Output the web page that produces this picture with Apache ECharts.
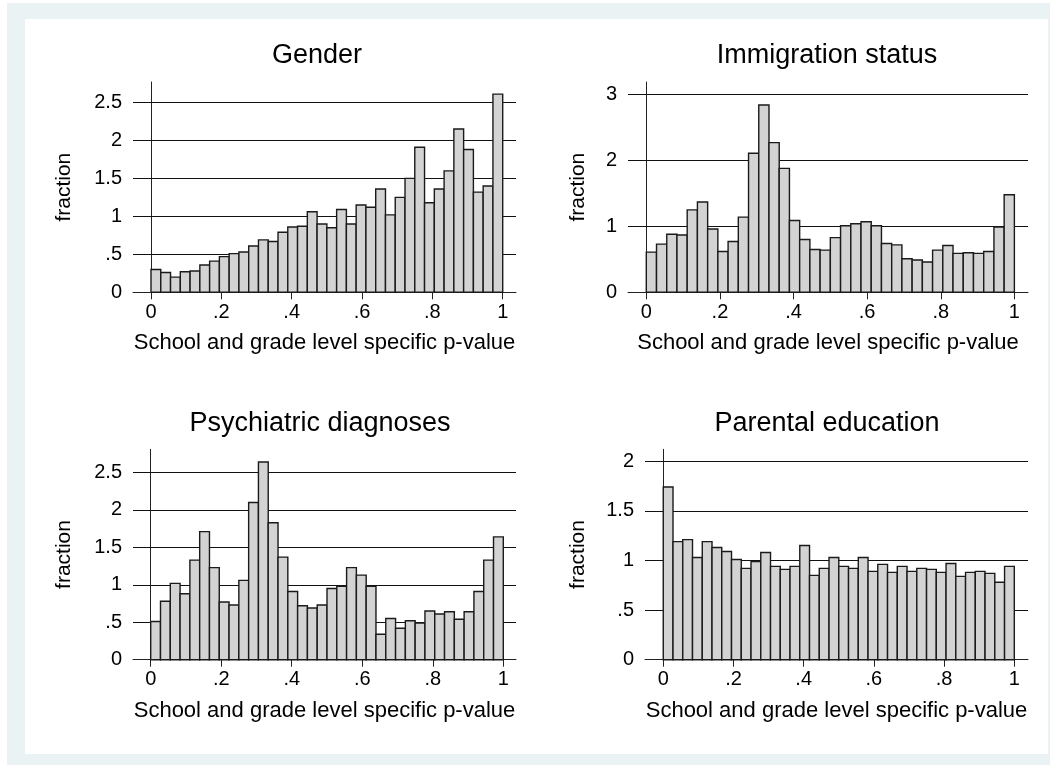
<!DOCTYPE html>
<html>
<head>
<meta charset="utf-8">
<script src="https://cdn.jsdelivr.net/npm/echarts@6/dist/echarts.min.js"></script>
<style>
  html, body { margin: 0; padding: 0; background: #fff; }
  #chart { width: 1050px; height: 765px; }
</style>
</head>
<body>
<div id="chart"></div>
<script>
// histogram densities, 36 bins over [0, 1]
const genderDensity = [0.30, 0.26, 0.20, 0.27, 0.28, 0.36, 0.41, 0.47, 0.51, 0.53, 0.61, 0.69, 0.67, 0.79, 0.86, 0.87, 1.06, 0.90,
  0.85, 1.09, 0.90, 1.15, 1.12, 1.36, 1.02, 1.25, 1.50, 1.91, 1.18, 1.36, 1.60, 2.15, 1.88, 1.32, 1.40, 2.61]
const immigrationDensity = [0.61, 0.73, 0.88, 0.87, 1.25, 1.37, 0.96, 0.62, 0.77, 1.14, 2.11, 2.84, 2.27, 1.88, 1.09, 0.80, 0.65, 0.64,
  0.83, 1.01, 1.04, 1.07, 1.01, 0.74, 0.72, 0.51, 0.49, 0.46, 0.64, 0.71, 0.59, 0.60, 0.59, 0.62, 0.99, 1.48]
const psychDensity = [0.51, 0.78, 1.02, 0.88, 1.33, 1.71, 1.23, 0.77, 0.73, 1.06, 2.10, 2.64, 1.83, 1.37, 0.91, 0.72, 0.69, 0.73,
  0.95, 0.98, 1.23, 1.13, 0.98, 0.34, 0.55, 0.42, 0.52, 0.49, 0.65, 0.61, 0.64, 0.54, 0.64, 0.91, 1.33, 1.64]
const parentalDensity = [1.74, 1.19, 1.21, 1.03, 1.19, 1.13, 1.09, 1.01, 0.92, 0.99, 1.08, 0.94, 0.91, 0.94, 1.15, 0.85, 0.92, 1.03,
  0.94, 0.92, 1.03, 0.89, 0.96, 0.88, 0.94, 0.89, 0.92, 0.91, 0.88, 0.97, 0.84, 0.88, 0.89, 0.87, 0.78, 0.94]

const panelTitles = ["Gender", "Immigration status", "Psychiatric diagnoses", "Parental education"]
const xTicks = [0, 0.2, 0.4, 0.6, 0.8, 1]
const yTicksHalf = [0, 0.5, 1, 1.5, 2, 2.5]
const yTicksImm = [0, 1, 2, 3]
const yTicksPar = [0, 0.5, 1, 1.5, 2]
const xTitle = "School and grade level specific p-value"
const yTitle = "fraction"
const binCount = 36

const font = "'Liberation Sans', Arial, Helvetica, sans-serif"
const tickFmt = (v) => (v === 0 ? "0" : String(+v.toFixed(2)).replace(/^0\./, "."))

// layout of each panel (pixels + axis extents)
const panels = [
  { data: genderDensity, yTicks: yTicksHalf, left: 133, top: 82, width: 383, height: 210.3, xMin: -0.0512, xMax: 1.0378, yMax: 2.77, yGap: 58, titleX: 317, titleY: 56 },
  { data: immigrationDensity, yTicks: yTicksImm, left: 628, top: 82, width: 400, height: 210.3, xMin: -0.0497, xMax: 1.037, yMax: 3.19, yGap: 39, titleX: 827, titleY: 56 },
  { data: psychDensity, yTicks: yTicksHalf, left: 133, top: 449.3, width: 383, height: 210.4, xMin: -0.0502, xMax: 1.036, yMax: 2.81, yGap: 58, titleX: 320, titleY: 424 },
  { data: parentalDensity, yTicks: yTicksPar, left: 645, top: 449.3, width: 383, height: 210.4, xMin: -0.052, xMax: 1.039, yMax: 2.12, yGap: 56, titleX: 827, titleY: 424 },
]

const chart = echarts.init(document.getElementById("chart"))

const grid = panels.map((p) => ({ left: p.left, top: p.top, width: p.width, height: p.height, containLabel: false }))

const xAxis = panels.map((p, i) => ({
  type: "value",
  gridIndex: i,
  min: p.xMin,
  max: p.xMax,
  name: xTitle,
  nameLocation: "middle",
  nameGap: 40,
  nameTextStyle: { color: "#000", fontSize: 22, fontFamily: font },
  axisLine: { show: true, onZero: false, lineStyle: { color: "#222", width: 1 } },
  axisTick: { show: true, length: 7, customValues: xTicks, lineStyle: { color: "#222" } },
  axisLabel: { customValues: xTicks, formatter: tickFmt, color: "#000", fontSize: 20, fontFamily: font, margin: 10 },
  splitLine: { show: false },
}))

const yAxis = panels.map((p, i) => ({
  type: "value",
  gridIndex: i,
  min: 0,
  max: p.yMax,
  name: yTitle,
  nameLocation: "middle",
  nameGap: p.yGap,
  nameTextStyle: { color: "#000", fontSize: 21, fontFamily: font },
  axisLine: { show: true, lineStyle: { color: "#222", width: 1 } },
  axisTick: { show: true, length: 7, customValues: p.yTicks, lineStyle: { color: "#222" } },
  axisLabel: { customValues: p.yTicks, formatter: tickFmt, color: "#000", fontSize: 20, fontFamily: font, margin: 11 },
  splitLine: { show: false },
}))

const series = panels.map((p, i) => ({
  type: "custom",
  xAxisIndex: i,
  yAxisIndex: i,
  data: p.data.map((v, k) => [k / binCount, (k + 1) / binCount, v]),
  renderItem: (params, api) => {
    const a = api.coord([api.value(0), api.value(2)])
    const b = api.coord([api.value(1), 0])
    return {
      type: "rect",
      shape: { x: a[0], y: a[1], width: b[0] - a[0], height: b[1] - a[1] },
      style: { fill: "#d3d3d3", stroke: "#1a1a1a", lineWidth: 1.4 },
    }
  },
  encode: { x: [0, 1], y: 2 },
  z: 3,
  // horizontal gridlines
  markLine: {
    silent: true,
    symbol: "none",
    label: { show: false },
    lineStyle: { color: "#111", width: 1, type: "solid" },
    data: p.yTicks.filter((t) => t > 0).map((t) => ({ yAxis: t })),
    z: 1,
  },
}))

const graphic = [
  { type: "rect", silent: true, z: -10, shape: { x: 7, y: 3, width: 1043, height: 762 }, style: { fill: "#eaf2f3" } },
  { type: "rect", silent: true, z: -9, shape: { x: 25, y: 19, width: 1023, height: 735 }, style: { fill: "#ffffff" } },
].concat(panels.map((p, i) => ({
  type: "text",
  x: p.titleX,
  y: p.titleY,
  style: { text: panelTitles[i], fill: "#000", fontSize: 27, fontFamily: font, align: "center", verticalAlign: "middle" },
})))

chart.setOption({
  animation: false,
  backgroundColor: "#fff",
  graphic: graphic,
  grid: grid,
  xAxis: xAxis,
  yAxis: yAxis,
  series: series,
})
</script>
</body>
</html>
